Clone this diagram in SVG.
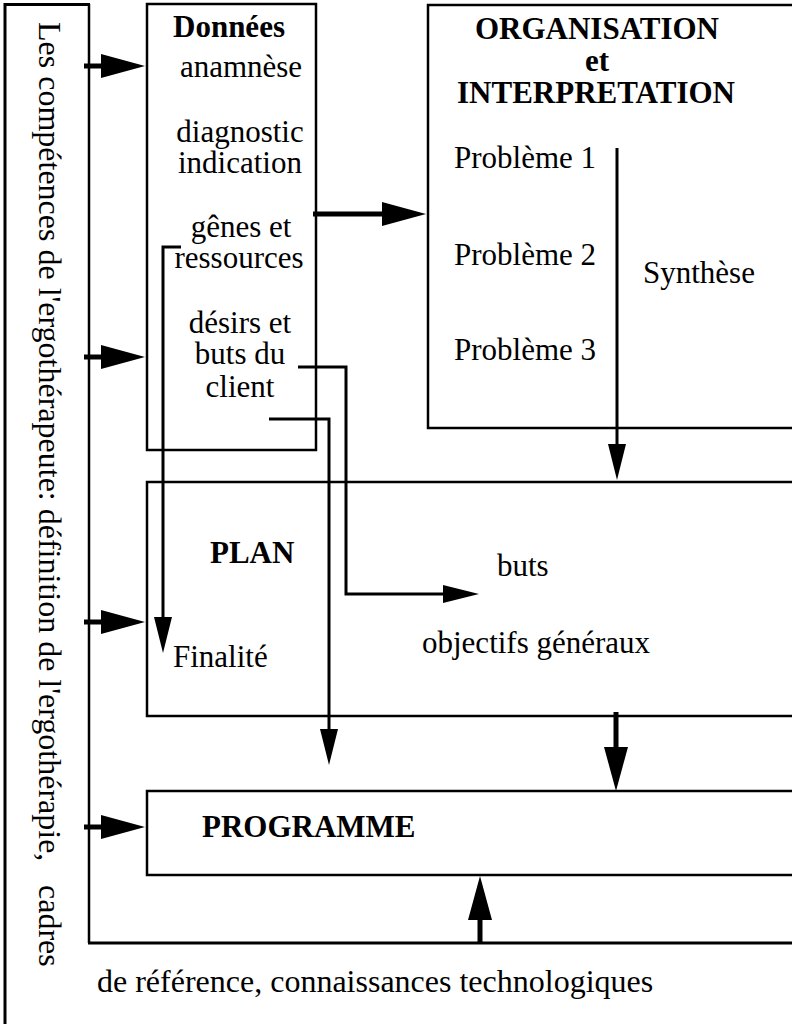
<svg xmlns="http://www.w3.org/2000/svg" width="792" height="1024" viewBox="0 0 792 1024">
  <style>
    .box { fill: none; stroke: #000; stroke-width: 2.5; }
    .frame { fill: none; stroke: #000; stroke-width: 3; }
    .bold-arrow { fill: none; stroke: #000; stroke-width: 5; }
    .thin-arrow { fill: none; stroke: #000; stroke-width: 3; }
    text { font-family: "Liberation Serif", "Times New Roman", serif; font-size: 31px; fill: #000; }
    .b { font-weight: bold; }
    .c { text-anchor: middle; }
    .big { font-size: 32px; }
  </style>
  <defs>
    <marker id="ah-bold" viewBox="0 0 44 24" refX="14" refY="12" markerWidth="44" markerHeight="24" markerUnits="userSpaceOnUse" orient="auto">
      <path d="M0,0 L44,12 L0,24 Z" fill="#000"/>
    </marker>
    <marker id="ah-thin" viewBox="0 0 36 18" refX="10" refY="9" markerWidth="36" markerHeight="18" markerUnits="userSpaceOnUse" orient="auto">
      <path d="M0,0 L36,9 L0,18 Z" fill="#000"/>
    </marker>
  </defs>
  <rect width="792" height="1024" fill="#fff"/>

  <!-- surrounding frame: competences / references -->
  <g id="cadre">
    <line x1="5" y1="1024" x2="5" y2="3" class="frame"/>
    <line x1="4" y1="4.5" x2="90" y2="4.5" class="frame"/>
    <line x1="89" y1="4" x2="89" y2="943" class="box"/>
    <line x1="88" y1="943" x2="792" y2="943" class="frame"/>
    <text class="big" transform="translate(39,22) rotate(90)">Les compétences de l'ergothérapeute: définition de l'ergothérapie,</text>
    <text class="big" transform="translate(39,885) rotate(90)">cadres</text>
    <text class="big" x="97" y="992">de référence, connaissances technologiques</text>
  </g>

  <g id="donnees">
    <rect x="147" y="4" width="169" height="446" class="box"/>
    <text class="b" x="173" y="37">Données</text>
    <text class="c" x="241" y="77">anamnèse</text>
    <text class="c" x="240" y="142">diagnostic</text>
    <text class="c" x="240" y="173">indication</text>
    <text class="c" x="241" y="237">gênes et</text>
    <text class="c" x="239" y="268">ressources</text>
    <text class="c" x="240" y="333">désirs et</text>
    <text class="c" x="240" y="364">buts du</text>
    <text class="c" x="240" y="397">client</text>
  </g>

  <g id="organisation">
    <path d="M800,5 H428 V428 H800" class="box"/>
    <text class="b c" x="597" y="39">ORGANISATION</text>
    <text class="b c" x="597" y="71">et</text>
    <text class="b c" x="596" y="103">INTERPRETATION</text>
    <text x="454" y="168">Problème 1</text>
    <text x="454" y="265">Problème 2</text>
    <text x="454" y="360">Problème 3</text>
    <text x="643" y="283">Synthèse</text>
  </g>

  <g id="plan">
    <path d="M800,482 H147 V716 H800" class="box"/>
    <text class="b" x="210" y="563">PLAN</text>
    <text x="173" y="667">Finalité</text>
    <text x="497" y="576">buts</text>
    <text x="422" y="653">objectifs généraux</text>
  </g>

  <g id="programme">
    <path d="M800,791 H147 V875 H800" class="box"/>
    <text class="b" x="202" y="837">PROGRAMME</text>
  </g>

  <g id="connectors">
    <!-- competences feeding each stage -->
    <line x1="84" y1="66" x2="115" y2="66" class="bold-arrow" marker-end="url(#ah-bold)"/>
    <line x1="84" y1="357" x2="115" y2="357" class="bold-arrow" marker-end="url(#ah-bold)"/>
    <line x1="84" y1="622" x2="115" y2="622" class="bold-arrow" marker-end="url(#ah-bold)"/>
    <line x1="84" y1="827" x2="115" y2="827" class="bold-arrow" marker-end="url(#ah-bold)"/>
    <!-- donnees to organisation -->
    <line x1="313" y1="214" x2="396" y2="214" class="bold-arrow" marker-end="url(#ah-bold)"/>
    <!-- plan to programme -->
    <line x1="616" y1="712" x2="616" y2="761" class="bold-arrow" marker-end="url(#ah-bold)"/>
    <!-- references to programme -->
    <line x1="480" y1="943" x2="480" y2="906" class="bold-arrow" marker-end="url(#ah-bold)"/>
    <!-- synthese to plan -->
    <path d="M617,148 V454" class="thin-arrow" marker-end="url(#ah-thin)"/>
    <!-- genes et ressources to finalite -->
    <path d="M181,247 H163 V627" class="thin-arrow" marker-end="url(#ah-thin)"/>
    <!-- buts du client to buts -->
    <path d="M298,367 H346 V594 H453" class="thin-arrow" marker-end="url(#ah-thin)"/>
    <!-- client to programme -->
    <path d="M269,419 H329 V739" class="thin-arrow" marker-end="url(#ah-thin)"/>
  </g>
</svg>
